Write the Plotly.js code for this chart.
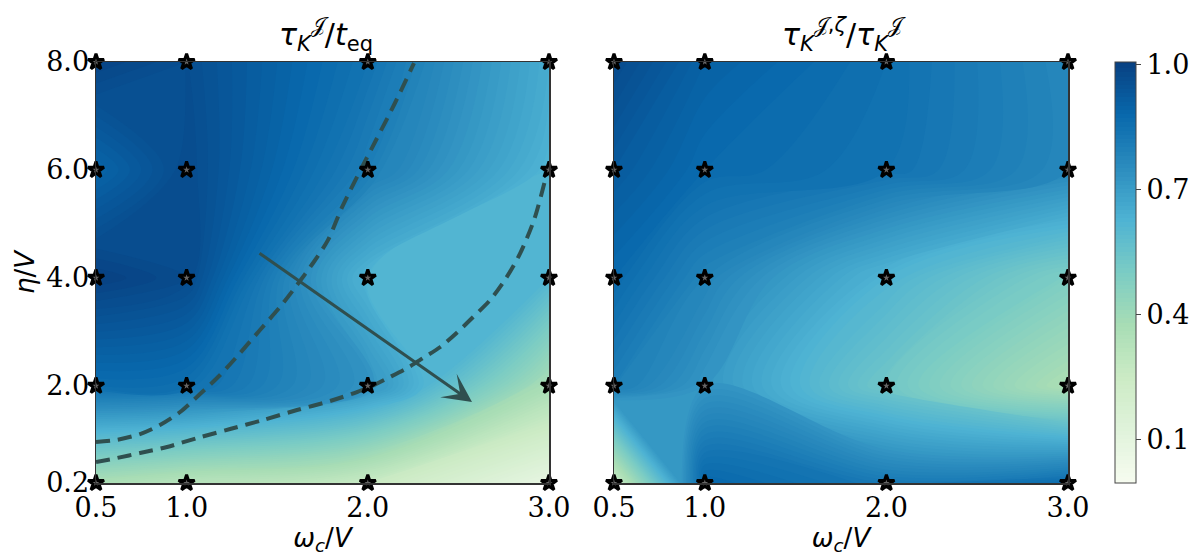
<!DOCTYPE html>
<html>
<head>
<meta charset="utf-8">
<script src="https://cdn.plot.ly/plotly-3.0.1.min.js"></script>
<style>html,body{margin:0;padding:0;background:#fff;}#chart{width:1200px;height:560px;}</style>
</head>
<body>
<div id="chart"></div>
<script>
// grid coordinates
const omegaVals = [0.5, 1.0, 2.0, 3.0];
const etaVals = [0.2, 2.0, 4.0, 6.0, 8.0];
const omegaTickText = ['0.5', '1.0', '2.0', '3.0'];
const etaTickText = ['0.2', '2.0', '4.0', '6.0', '8.0'];
const cbTickVals = [0.1, 0.4, 0.7, 1.0];
const cbTickText = ['0.1', '0.4', '0.7', '1.0'];

// left panel: tau_K^J / t_eq  (rows = eta, cols = omega)
const tauRatioRow02 = [0.36, 0.32, 0.26, 0.08];
const tauRatioRow2 = [0.86, 0.85, 0.73, 0.37];
const tauRatioRow4 = [1.00, 0.97, 0.62, 0.61];
const tauRatioRow6 = [0.89, 0.97, 0.80, 0.62];
const tauRatioRow8 = [0.99, 0.96, 0.84, 0.65];

// right panel: tau_K^{J,zeta} / tau_K^J
const zetaRatioRow02 = [0.25, 0.88, 0.82, 0.86];
const zetaRatioRow2 = [0.80, 0.72, 0.53, 0.36];
const zetaRatioRow4 = [0.87, 0.78, 0.62, 0.49];
const zetaRatioRow6 = [0.92, 0.87, 0.84, 0.77];
const zetaRatioRow8 = [0.97, 0.90, 0.85, 0.77];

// dashed guide curves (left panel)
const curve1Omega = [0.5, 0.616, 0.743, 0.853, 0.964, 1.074, 1.185, 1.295, 1.405, 1.515, 1.609, 1.698, 1.78, 1.858, 1.96, 2.045, 2.15, 2.255];
const curve1Eta = [0.96, 1.0, 1.107, 1.274, 1.515, 1.849, 2.201, 2.608, 3.035, 3.459, 3.867, 4.276, 4.70, 5.31, 6.0, 6.55, 7.24, 7.98];
const curve2Omega = [0.5, 0.616, 0.743, 0.892, 1.058, 1.24, 1.422, 1.609, 1.792, 1.94, 2.03, 2.12, 2.217, 2.305, 2.40, 2.49, 2.58, 2.675, 2.76, 2.84, 2.92, 3.0];
const curve2Eta = [0.589, 0.663, 0.756, 0.867, 1.033, 1.2, 1.367, 1.552, 1.719, 1.885, 2.01, 2.16, 2.33, 2.515, 2.72, 2.98, 3.27, 3.59, 3.98, 4.45, 5.1, 6.1];

// arrow (left panel)
const arrowStart = [1.394, 4.478];
const arrowEnd = [2.575, 1.70];

const tauRatio = [tauRatioRow02, tauRatioRow2, tauRatioRow4, tauRatioRow6, tauRatioRow8];
const zetaRatio = [zetaRatioRow02, zetaRatioRow2, zetaRatioRow4, zetaRatioRow6, zetaRatioRow8];

const gnbu = [
  [0.0, '#f7fcf0'], [0.125, '#e0f3db'], [0.25, '#ccebc5'], [0.375, '#a8ddb5'],
  [0.5, '#7bccc4'], [0.625, '#4eb3d3'], [0.75, '#2b8cbe'], [0.875, '#0868ac'], [1.0, '#084081']
];

const starX = [], starY = [];
etaVals.forEach(e => omegaVals.forEach(o => { starX.push(o); starY.push(e); }));

const slate = '#2f4f4f';
const contourCfg = {start: 0, end: 1.0, size: 0.01, coloring: 'fill', showlines: false};

const traces = [
  {type: 'contour', x: omegaVals, y: etaVals, z: tauRatio, coloraxis: 'coloraxis',
   contours: contourCfg, line: {width: 0}, xaxis: 'x', yaxis: 'y', hoverinfo: 'skip'},
  {type: 'contour', x: omegaVals, y: etaVals, z: zetaRatio, coloraxis: 'coloraxis',
   contours: contourCfg, line: {width: 0}, xaxis: 'x2', yaxis: 'y2', hoverinfo: 'skip'},
  {type: 'scatter', mode: 'lines', x: curve1Omega, y: curve1Eta, xaxis: 'x', yaxis: 'y',
   line: {color: slate, width: 4, dash: '14px,8px', shape: 'spline', smoothing: 0.8}, showlegend: false},
  {type: 'scatter', mode: 'lines', x: curve2Omega, y: curve2Eta, xaxis: 'x', yaxis: 'y',
   line: {color: slate, width: 4, dash: '14px,8px', shape: 'spline', smoothing: 0.8}, showlegend: false},
  {type: 'scatter', mode: 'markers', x: starX, y: starY, xaxis: 'x', yaxis: 'y', cliponaxis: false,
   marker: {symbol: 'star', size: 12, color: '#666', line: {color: '#000', width: 3}}, showlegend: false},
  {type: 'scatter', mode: 'markers', x: starX, y: starY, xaxis: 'x2', yaxis: 'y2', cliponaxis: false,
   marker: {symbol: 'star', size: 12, color: '#666', line: {color: '#000', width: 3}}, showlegend: false}
];

const tickFont = {family: 'DejaVu Serif', size: 27, color: '#000'};
const titleFont = {family: 'DejaVu Sans', size: 26, color: '#000'};
const mainTitleFont = {family: 'DejaVu Sans', size: 30, color: '#000'};
const yDom = [1 - 483/560, 1 - 62/560];

const baseAxis = {
  showgrid: false, zeroline: false, showline: true, mirror: true,
  linecolor: '#333', linewidth: 1.5, ticks: '', tickfont: tickFont
};

const layout = {
  width: 1200, height: 560,
  margin: {l: 0, r: 0, t: 0, b: 0},
  paper_bgcolor: '#fff', plot_bgcolor: '#fff',
  showlegend: false,
  xaxis: Object.assign({}, baseAxis, {domain: [96/1200, 549/1200], range: [0.5, 3.0], anchor: 'y',
    tickvals: omegaVals, ticktext: omegaTickText,
    title: {text: '<i>ω</i><sub><i>c</i></sub>/<i>V</i>', font: titleFont, standoff: 2}}),
  yaxis: Object.assign({}, baseAxis, {domain: yDom, range: [0.2, 8.0], anchor: 'x',
    tickvals: etaVals, ticktext: etaTickText,
    title: {text: '<i>η</i>/<i>V</i>', font: titleFont, standoff: 4}}),
  xaxis2: Object.assign({}, baseAxis, {domain: [614/1200, 1068/1200], range: [0.5, 3.0], anchor: 'y2',
    tickvals: omegaVals, ticktext: omegaTickText,
    title: {text: '<i>ω</i><sub><i>c</i></sub>/<i>V</i>', font: titleFont, standoff: 2}}),
  yaxis2: Object.assign({}, baseAxis, {domain: yDom, range: [0.2, 8.0], anchor: 'x2',
    tickvals: etaVals, showticklabels: false}),
  coloraxis: {
    colorscale: gnbu, cmin: 0, cmax: 1.0,
    colorbar: {
      x: 1115/1200, xanchor: 'left', xpad: 0, ypad: 0,
      y: (yDom[0] + yDom[1]) / 2, yanchor: 'middle', len: 421/560, lenmode: 'fraction',
      thickness: 21, thicknessmode: 'pixels',
      outlinewidth: 1, outlinecolor: '#444',
      tickvals: cbTickVals, ticktext: cbTickText, ticks: 'outside', ticklen: 5, tickcolor: '#444',
      tickfont: tickFont
    }
  },
  annotations: [
    {xref: 'paper', yref: 'paper', x: 277/1200, xanchor: 'left', y: 1 - 34/560, yanchor: 'middle', showarrow: false,
     text: '<i>τ</i><sub><i>K</i></sub><sup>𝒥</sup>/<i>t</i><sub>eq</sub>', font: mainTitleFont},
    {xref: 'paper', yref: 'paper', x: 780/1200, xanchor: 'left', y: 1 - 34/560, yanchor: 'middle', showarrow: false,
     text: '<i>τ</i><sub><i>K</i></sub><sup>𝒥,<i>ζ</i></sup>/<i>τ</i><sub><i>K</i></sub><sup>𝒥</sup>', font: mainTitleFont},
    {xref: 'x', yref: 'y', axref: 'x', ayref: 'y', x: arrowEnd[0], y: arrowEnd[1], ax: arrowStart[0], ay: arrowStart[1],
     text: '', showarrow: true, arrowhead: 3, arrowsize: 1.6, arrowwidth: 3, arrowcolor: slate}
  ]
};

Plotly.newPlot('chart', traces, layout, {staticPlot: true, displayModeBar: false});
</script>
</body>
</html>
